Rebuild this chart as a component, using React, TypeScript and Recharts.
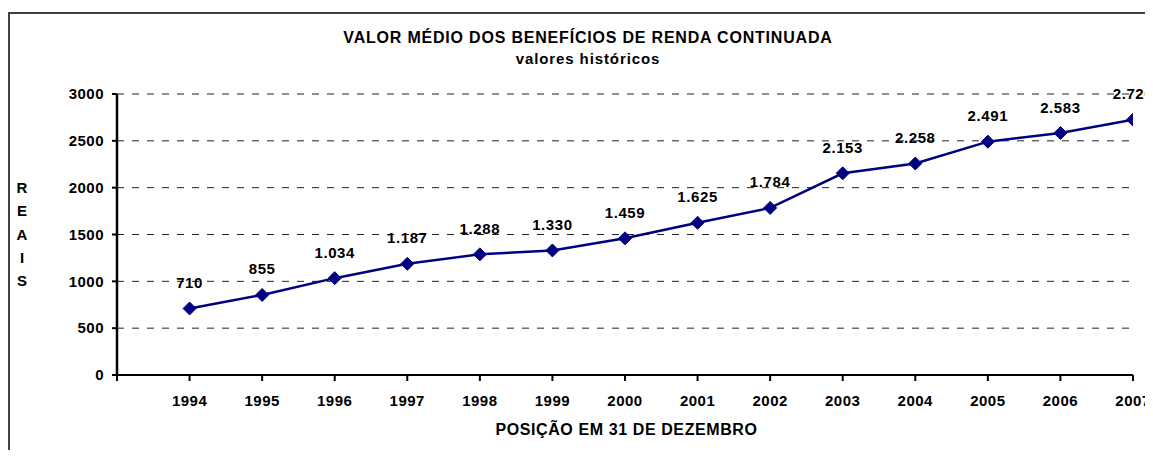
import React from 'react';
import { LineChart, Line, XAxis, YAxis, CartesianGrid } from 'recharts';

// anos (posição em 31 de dezembro) e valores médios em reais
const years = [1994, 1995, 1996, 1997, 1998, 1999, 2000, 2001, 2002, 2003, 2004, 2005, 2006, 2007];
const values = [710, 855, 1034, 1187, 1288, 1330, 1459, 1625, 1784, 2153, 2258, 2491, 2583, 2726];
const yTicks = [0, 500, 1000, 1500, 2000, 2500, 3000];
const xTicks = [1993, ...years];
const axisLetters = ['R', 'E', 'A', 'I', 'S'];

const data = years.map((year, i) => ({ year, valor: values[i] }));

const NAVY = '#000080';
const FONT = '"Liberation Sans", Arial, sans-serif';

// 1234 -> "1.234"
const formatBR = (v: number) => String(v).replace(/\B(?=(\d{3})+(?!\d))/g, '.');

const Diamond = (props: any) => {
  const { cx, cy, index } = props;
  if (cx == null || cy == null) return null;
  const r = 6.5;
  return (
    <path
      key={`d-${index}`}
      d={`M${cx},${cy - r} L${cx + r},${cy} L${cx},${cy + r} L${cx - r},${cy} Z`}
      fill={NAVY}
      stroke={NAVY}
    />
  );
};

const ValueLabel = (props: any) => {
  const { x, y, value, index } = props;
  return (
    <text
      key={`l-${index}`}
      x={x}
      y={y - 26}
      textAnchor="middle"
      dominantBaseline="central"
      fontFamily={FONT}
      fontWeight="bold"
      fontSize={15}
      letterSpacing={0.6}
      fill="#000"
    >
      {formatBR(value)}
    </text>
  );
};

const tickStyle = {
  fontFamily: FONT,
  fontWeight: 'bold' as const,
  fontSize: 15,
  letterSpacing: 0.5,
  fill: '#000',
};

export default function App() {
  return (
    <div style={{ position: 'relative', width: 1137, height: 442, background: '#fff' }}>
      <style>{'html,body{overflow:hidden} .recharts-surface{overflow:visible}'}</style>
      <div
        style={{
          position: 'absolute',
          left: 0,
          top: 4,
          width: 1145,
          height: 438,
          borderLeft: '2px solid #404040',
          borderTop: '2px solid #404040',
          boxSizing: 'border-box',
        }}
      />
      <div
        style={{
          position: 'absolute',
          left: 0,
          width: 1160,
          top: 19,
          textAlign: 'center',
          fontFamily: FONT,
          fontWeight: 'bold',
          color: '#000',
        }}
      >
        <div style={{ fontSize: 16, letterSpacing: 0.8, lineHeight: '22px' }}>
          VALOR MÉDIO DOS BENEFÍCIOS DE RENDA CONTINUADA
        </div>
        <div style={{ fontSize: 15, letterSpacing: 0.9, lineHeight: '20px' }}>valores históricos</div>
      </div>
      <div
        style={{
          position: 'absolute',
          left: 5,
          width: 18,
          top: 168,
          textAlign: 'center',
          fontFamily: FONT,
          fontWeight: 'bold',
          fontSize: 15,
          lineHeight: '23.3px',
        }}
      >
        {axisLetters.map((c) => (
          <div key={c}>{c}</div>
        ))}
      </div>
      <div
        style={{
          position: 'absolute',
          left: 0,
          width: 1237,
          top: 411,
          textAlign: 'center',
          fontFamily: FONT,
          fontWeight: 'bold',
          fontSize: 16,
          letterSpacing: 0.6,
          lineHeight: '22px',
        }}
      >
        POSIÇÃO EM 31 DE DEZEMBRO
      </div>
      <div style={{ position: 'absolute', left: 0, top: 0 }}>
        <LineChart width={1145} height={442} data={data} margin={{ top: 86, right: 20, bottom: 35, left: 49 }}>
          <CartesianGrid vertical={false} stroke="#222" strokeDasharray="7 8" />
          <XAxis
            dataKey="year"
            type="number"
            domain={[1993, 2007]}
            ticks={xTicks}
            tickFormatter={(v: number) => (v === 1993 ? '' : String(v))}
            interval={0}
            height={40}
            tick={tickStyle}
            tickSize={6}
            tickMargin={14}
            axisLine={{ stroke: '#000', strokeWidth: 2 }}
            tickLine={{ stroke: '#000', strokeWidth: 2 }}
            allowDataOverflow
          />
          <YAxis
            domain={[0, 3000]}
            ticks={yTicks}
            width={60}
            interval={0}
            tick={tickStyle}
            tickSize={5}
            tickMargin={8}
            axisLine={{ stroke: '#000', strokeWidth: 2.5 }}
            tickLine={{ stroke: '#000', strokeWidth: 2 }}
          />
          <Line
            type="linear"
            dataKey="valor"
            stroke={NAVY}
            strokeWidth={2.5}
            dot={Diamond}
            activeDot={false}
            label={ValueLabel}
            isAnimationActive={false}
          />
        </LineChart>
      </div>
    </div>
  );
}
